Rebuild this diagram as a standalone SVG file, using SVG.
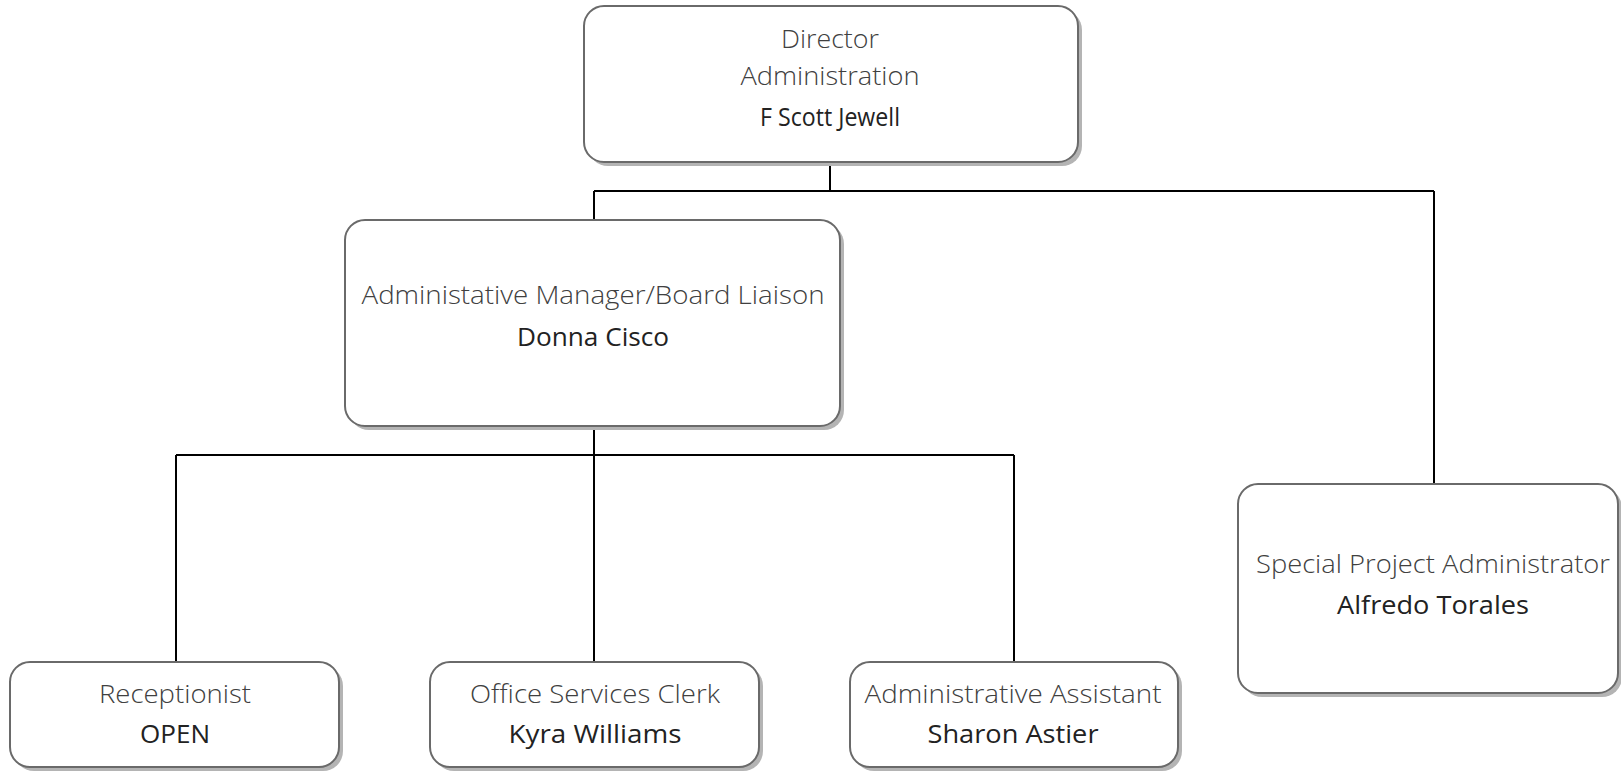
<svg xmlns="http://www.w3.org/2000/svg" width="1621" height="771" viewBox="0 0 1621 771">
<style>
.box{fill:#fff;stroke:#6a6a6a;stroke-width:2}
.shadow{fill:#b4b4b4}
.t{font-family:"Open Sans","Liberation Sans",sans-serif;font-weight:300;font-size:26px;fill:#404040;text-anchor:middle}
.n{font-family:"Open Sans","Liberation Sans",sans-serif;font-weight:400;font-size:25px;fill:#222;text-anchor:middle}
.c{fill:none;stroke:#000;stroke-width:2}
</style>
<rect width="1621" height="771" fill="#fff"/>
<g id="connectors">
<path class="c" d="M830 162V191M594 191H1434M594 191V220M1434 191V484"/>
<path class="c" d="M594 426V455M176 455H1014M176 455V662M594 455V662M1014 455V662"/>
</g>
<g id="director">
<rect class="shadow" x="588" y="10" width="494" height="156" rx="20"/>
<rect class="box" x="584" y="6" width="494" height="156" rx="20"/>
<text class="t" x="830" y="48" textLength="98" lengthAdjust="spacingAndGlyphs">Director</text>
<text class="t" x="830" y="85" textLength="179" lengthAdjust="spacingAndGlyphs">Administration</text>
<text class="n" x="830" y="126" textLength="140" lengthAdjust="spacingAndGlyphs">F Scott Jewell</text>
</g>
<g id="manager">
<rect class="shadow" x="349" y="224" width="495" height="206" rx="20"/>
<rect class="box" x="345" y="220" width="495" height="206" rx="20"/>
<text class="t" x="593" y="304" textLength="463" lengthAdjust="spacingAndGlyphs">Administative Manager/Board Liaison</text>
<text class="n" x="593" y="346" textLength="152" lengthAdjust="spacingAndGlyphs">Donna Cisco</text>
</g>
<g id="special">
<rect class="shadow" x="1242" y="488" width="380" height="209" rx="20"/>
<rect class="box" x="1238" y="484" width="380" height="209" rx="20"/>
<text class="t" x="1433" y="573" textLength="354" lengthAdjust="spacingAndGlyphs">Special Project Administrator</text>
<text class="n" x="1433" y="614" textLength="192" lengthAdjust="spacingAndGlyphs">Alfredo Torales</text>
</g>
<g id="receptionist">
<rect class="shadow" x="14" y="666" width="329" height="105" rx="20"/>
<rect class="box" x="10" y="662" width="329" height="105" rx="20"/>
<text class="t" x="175" y="703" textLength="152" lengthAdjust="spacingAndGlyphs">Receptionist</text>
<text class="n" x="175" y="743" textLength="70" lengthAdjust="spacingAndGlyphs">OPEN</text>
</g>
<g id="clerk">
<rect class="shadow" x="434" y="666" width="329" height="105" rx="20"/>
<rect class="box" x="430" y="662" width="329" height="105" rx="20"/>
<text class="t" x="595" y="703" textLength="250" lengthAdjust="spacingAndGlyphs">Office Services Clerk</text>
<text class="n" x="595" y="743" textLength="173" lengthAdjust="spacingAndGlyphs">Kyra Williams</text>
</g>
<g id="assistant">
<rect class="shadow" x="854" y="666" width="328" height="105" rx="20"/>
<rect class="box" x="850" y="662" width="328" height="105" rx="20"/>
<text class="t" x="1013" y="703" textLength="297" lengthAdjust="spacingAndGlyphs">Administrative Assistant</text>
<text class="n" x="1013" y="743" textLength="171" lengthAdjust="spacingAndGlyphs">Sharon Astier</text>
</g>
</svg>
